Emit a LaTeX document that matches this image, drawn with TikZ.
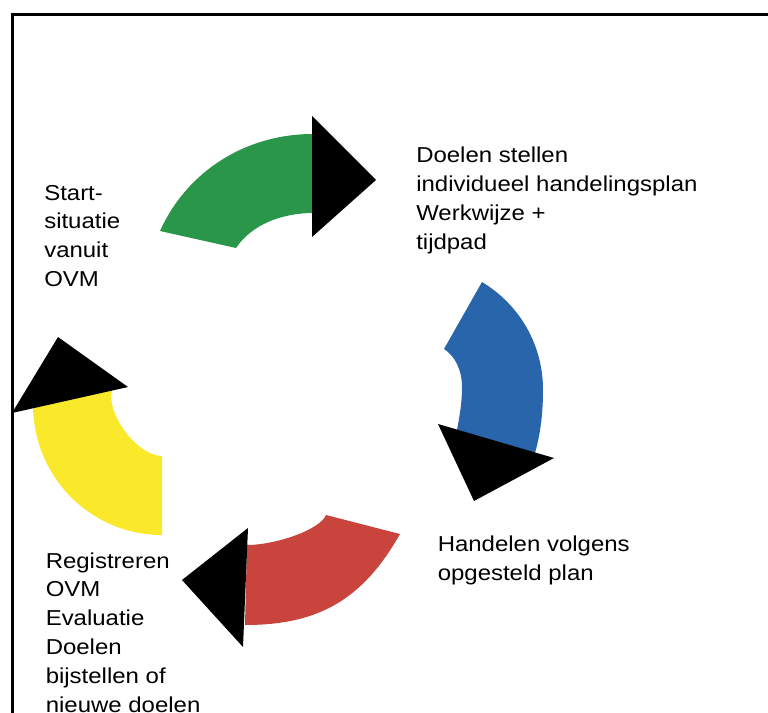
\documentclass[tikz,border=0pt]{standalone}
\usepackage{fontspec}
\setmainfont{Liberation Sans}[FakeStretch=1.11]
\usepackage{tikz}
\usetikzlibrary{positioning}
\definecolor{cycGreen}{RGB}{42,150,74}
\definecolor{cycBlue}{RGB}{41,101,170}
\definecolor{cycRed}{RGB}{200,68,61}
\definecolor{cycYellow}{RGB}{250,232,42}

\begin{document}
\begin{tikzpicture}[x = .75pt, y = -.75pt,
  lbl/.style = {anchor=base west, align=left, inner sep=0pt,
    font=\fontsize{16.2}{21.6}\selectfont},
  head/.style = {fill=black}]
\useasboundingbox (0,0) rectangle (768,713);
\draw[line width = 2.25pt] (12,713) -- (12,15) -- (768,15);
% Arrow bodies
\fill[cycGreen] (160,231) .. controls (187,171) and (246,134) .. (313,134)
  -- (313,213) .. controls (283,213) and (252,224) .. (236,248) -- cycle;
\fill[cycBlue] (444,349) -- (482,282) .. controls (520,305) and (543,345) .. (543,390)
  .. controls (543,411) and (541,432) .. (535,453) -- (457,430)
  .. controls (460,414) and (462,402) .. (462,387)
  .. controls (462,370) and (455,356) .. (444,349) -- cycle;
\fill[cycRed] (326,515) -- (400,534) .. controls (362,601) and (317,625) .. (245,625)
  -- (247,545) .. controls (275,545) and (320,530) .. (326,515) -- cycle;
\fill[cycYellow] (162,456) -- (162,535) .. controls (92,535) and (35,479) .. (33,408)
  -- (112,390) .. controls (106,415) and (138,456) .. (162,456) -- cycle;
% Arrow heads
\fill[head] (312,116) -- (376,180) -- (312,237) -- cycle;
\fill[head] (438,424) -- (554,458) -- (474,501) -- cycle;
\fill[head] (248,528) -- (243,647) -- (182,580) -- cycle;
\fill[head] (12,413) -- (58,337) -- (128,387) -- cycle;
% Labels (anchored at the last line)
\node[lbl] (start) at (44,286.5) {Start-\\situatie\\vanuit\\OVM};
\node[lbl] (doelen) at (416,249) {Doelen stellen\\individueel handelingsplan\\Werkwijze +\\tijdpad};
\node[lbl] (handelen) at (437.5,580.5) {Handelen volgens\\opgesteld plan};
\node[lbl] (registreren) at (45.5,712) {Registreren\\OVM\\Evaluatie\\Doelen\\bijstellen of\\nieuwe doelen};
\end{tikzpicture}
\end{document}
